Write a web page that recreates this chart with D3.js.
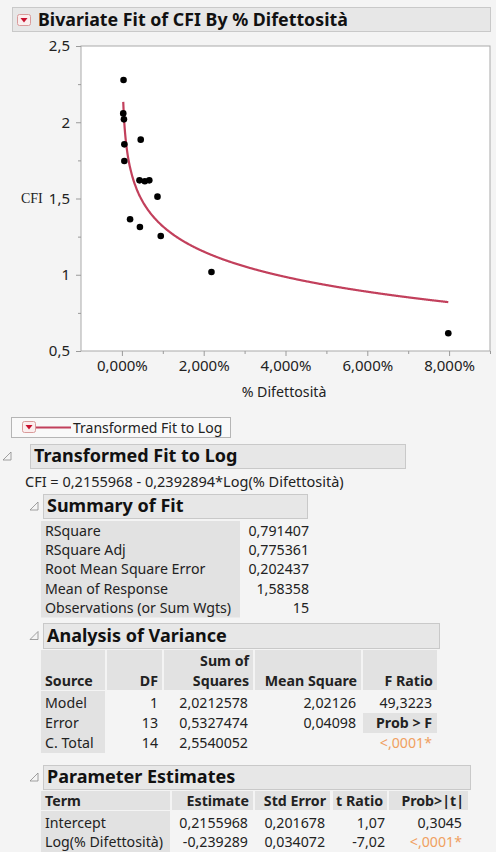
<!DOCTYPE html>
<html>
<head>
<meta charset="utf-8">
<script src="https://cdn.jsdelivr.net/npm/d3@7/dist/d3.min.js"></script>
<style>
  body { margin: 0; background: #f4f4f4; }
  svg { display: block; font-family: "Noto Sans", "Open Sans", sans-serif; }
</style>
</head>
<body>
<div id="chart"></div>
<script>
'use strict';

// scatter data: % Difettosità (as fraction) and CFI
var difettosita = [0.0004, 0.00033, 0.0005, 0.0006, 0.0006, 0.0046, 0.0043, 0.0056, 0.0067, 0.0087, 0.0020, 0.0044, 0.0095, 0.0219, 0.0798];
var cfi = [2.277, 2.058, 2.019, 1.855, 1.746, 1.886, 1.619, 1.613, 1.619, 1.512, 1.364, 1.313, 1.254, 1.018, 0.616];

// fitted model CFI = a + b*Log(x)
var fitIntercept = 0.2155968;
var fitSlope = -0.2392894;

var yTicks = [0.5, 1, 1.5, 2, 2.5];
var yMinorTicks = [0.75, 1.25, 1.75, 2.25];
var xTicks = [0, 0.02, 0.04, 0.06, 0.08];
var xMinorTicks = [0.01, 0.03, 0.05, 0.07, 0.09];

var titleText = 'Bivariate Fit of CFI By % Difettosità';
var fitName = 'Transformed Fit to Log';
var equationText = 'CFI = 0,2155968 - 0,2392894*Log(% Difettosità)';

var summaryLabels = ['RSquare', 'RSquare Adj', 'Root Mean Square Error', 'Mean of Response', 'Observations (or Sum Wgts)'];
var summaryValues = ['0,791407', '0,775361', '0,202437', '1,58358', '15'];

// header lines split on "\n"
var anovaCols = ['Source', 'DF', 'Sum of\nSquares', 'Mean Square', 'F Ratio'];
var anovaRows = [
  ['Model', '1', '2,0212578', '2,02126', '49,3223'],
  ['Error', '13', '0,5327474', '0,04098', 'Prob > F'],
  ['C. Total', '14', '2,5540052', '', '<,0001*']
];

var paramCols = ['Term', 'Estimate', 'Std Error', 't Ratio', 'Prob>|t|'];
var paramRows = [
  ['Intercept', '0,2155968', '0,201678', '1,07', '0,3045'],
  ['Log(% Difettosità)', '-0,239289', '0,034072', '-7,02', '<,0001*']
];

var it = d3.formatLocale({decimal: ',', thousands: '.', grouping: [3], currency: ['€', '']});

var width = 496;
var height = 852;
var headFill = '#e7e7e7';
var headStroke = '#c9c9c9';
var cellFill = '#e2e2e2';
var textCol = '#222';
var fitColour = '#c2405c';
var fs = 14.2;

var svg = d3.select('#chart').append('svg')
  .attr('width', width)
  .attr('height', height);

function redIcon(g, x, y) {
  g.append('rect').attr('x', x + 0.5).attr('y', y + 0.5).attr('width', 13).attr('height', 11)
    .attr('rx', 2).attr('fill', '#fbeeee').attr('stroke', '#d99a9a');
  g.append('path')
    .attr('d', 'M' + (x + 3.5) + ',' + (y + 4) + 'L' + (x + 10.5) + ',' + (y + 4) + 'L' + (x + 7) + ',' + (y + 8.5) + 'Z')
    .attr('fill', '#c8102e');
}

function outlineHeader(x, y, w, h, label, triX) {
  svg.append('path')
    .attr('d', 'M' + (triX + 8) + ',' + (y + h / 2 - 4) + 'L' + (triX + 8) + ',' + (y + h / 2 + 4) + 'L' + triX + ',' + (y + h / 2 + 4) + 'Z')
    .attr('fill', 'none').attr('stroke', '#8a8a8a').attr('stroke-width', 0.8);
  svg.append('rect').attr('x', x + 0.5).attr('y', y + 0.5).attr('width', w).attr('height', h)
    .attr('fill', headFill).attr('stroke', headStroke);
  svg.append('text').attr('x', x + 4).attr('y', y + h / 2).attr('dy', '0.36em')
    .attr('font-size', 18).attr('font-weight', 'bold').attr('fill', '#111')
    .text(label);
}

// ---- title bar ----
svg.append('rect').attr('x', 12.5).attr('y', 7.5).attr('width', 478).attr('height', 24)
  .attr('fill', headFill).attr('stroke', headStroke);
redIcon(svg, 17, 14);
svg.append('text').attr('x', 38).attr('y', 20).attr('dy', '0.36em')
  .attr('font-size', 17.8).attr('font-weight', 'bold').attr('fill', '#111')
  .text(titleText);

// ---- scatter plot ----
var x = d3.scaleLinear().domain([-0.01, 0.09]).range([81, 490]);
var y = d3.scaleLinear().domain([0.5, 2.5]).range([351, 46]);

svg.append('rect').attr('x', 81).attr('y', 46).attr('width', 409).attr('height', 305)
  .attr('fill', '#fff').attr('stroke', '#a9a9a9');

var yAxis = d3.axisLeft(y).tickValues(yTicks).tickSize(5).tickPadding(6)
  .tickFormat(function(d) { return it.format('~g')(d); });
var yMinor = d3.axisLeft(y).tickValues(yMinorTicks).tickSize(3).tickFormat('');
var xAxis = d3.axisBottom(x).tickValues(xTicks).tickSize(5).tickPadding(4)
  .tickFormat(function(d) { return it.format('.3%')(d); });
var xMinor = d3.axisBottom(x).tickValues(xMinorTicks).tickSize(3).tickFormat('');

function styleAxis(g) {
  g.select('.domain').remove();
  g.selectAll('line').attr('stroke', '#9a9a9a');
  g.selectAll('text').attr('font-size', 15).attr('fill', textCol)
    .attr('font-family', '"Noto Sans", sans-serif');
}

svg.append('g').attr('transform', 'translate(81,0)').call(yAxis).call(styleAxis);
svg.append('g').attr('transform', 'translate(81,0)').call(yMinor).call(styleAxis);
svg.append('g').attr('transform', 'translate(0,351)').call(xAxis).call(styleAxis);
svg.append('g').attr('transform', 'translate(0,351)').call(xMinor).call(styleAxis);

svg.append('text').attr('x', 21).attr('y', y(1.5)).attr('dy', '0.35em')
  .attr('font-size', 14).attr('fill', textCol).attr('font-family', '"Liberation Serif", serif')
  .text('CFI');
svg.append('text').attr('x', 284).attr('y', 392).attr('dy', '0.35em').attr('text-anchor', 'middle')
  .attr('font-size', fs).attr('fill', textCol)
  .text('% Difettosità');

// fitted curve over the observed range
var xMin = d3.min(difettosita);
var xMax = d3.max(difettosita);
var logScale = d3.scaleLog().domain([xMin, xMax]);
var curveX = logScale.ticks(400).filter(function(v) { return v >= xMin && v <= xMax; });
curveX.unshift(xMin);
curveX.push(xMax);
curveX.sort(d3.ascending);

var line = d3.line()
  .x(function(d) { return x(d); })
  .y(function(d) { return y(fitIntercept + fitSlope * Math.log(d)); })
  .curve(d3.curveMonotoneX);

svg.append('path').datum(curveX)
  .attr('d', line)
  .attr('fill', 'none')
  .attr('stroke', fitColour)
  .attr('stroke-width', 2.2);

svg.selectAll('.pt')
  .data(difettosita.map(function(d, i) { return {x: d, y: cfi[i]}; }))
  .enter().append('circle')
  .attr('class', 'pt')
  .attr('cx', function(d) { return x(d.x); })
  .attr('cy', function(d) { return y(d.y); })
  .attr('r', 3.3)
  .attr('fill', '#000');

// ---- legend box ----
svg.append('rect').attr('x', 11.5).attr('y', 417.5).attr('width', 219).attr('height', 20)
  .attr('fill', '#f9f9f9').attr('stroke', '#b5b5b5');
redIcon(svg, 22, 421);
svg.append('line').attr('x1', 36).attr('x2', 71).attr('y1', 427.5).attr('y2', 427.5)
  .attr('stroke', fitColour).attr('stroke-width', 2);
svg.append('text').attr('x', 73).attr('y', 428).attr('dy', '0.35em')
  .attr('font-size', 14).attr('fill', textCol).text(fitName);

// ---- Transformed Fit to Log ----
outlineHeader(30, 444, 375, 24, fitName, 3);
svg.append('text').attr('x', 25).attr('y', 482).attr('dy', '0.35em')
  .attr('font-size', 14.5).attr('fill', textCol).text(equationText);

// ---- Summary of Fit ----
outlineHeader(43, 494, 264, 24, 'Summary of Fit', 30);
var sumTop = 521;
var rowH = 19.3;
svg.append('rect').attr('x', 41).attr('y', sumTop).attr('width', 199).attr('height', rowH * summaryLabels.length)
  .attr('fill', cellFill);
summaryLabels.forEach(function(lab, i) {
  var cy = sumTop + rowH * (i + 0.5);
  svg.append('text').attr('x', 45).attr('y', cy).attr('dy', '0.35em')
    .attr('font-size', fs).attr('fill', textCol).text(lab);
  svg.append('text').attr('x', 309).attr('y', cy).attr('dy', '0.35em').attr('text-anchor', 'end')
    .attr('font-size', fs).attr('fill', textCol).text(summaryValues[i]);
});

// table helper: columns given as [left, right], first column is a label column
function drawTable(top, headH, cols, colBounds, rows, rowH, rowOffset, valueRight) {
  cols.forEach(function(c, j) {
    var b = colBounds[j];
    svg.append('rect').attr('x', b[0]).attr('y', top).attr('width', b[1] - b[0]).attr('height', headH)
      .attr('fill', cellFill);
    var parts = c.split('\n');
    parts.forEach(function(p, k) {
      svg.append('text')
        .attr('x', j === 0 ? b[0] + 4 : b[1] - 4)
        .attr('y', top + headH - 9 - (parts.length - 1 - k) * 20)
        .attr('dy', '0.35em')
        .attr('text-anchor', j === 0 ? 'start' : 'end')
        .attr('font-size', fs).attr('font-weight', 'bold').attr('fill', textCol)
        .text(p);
    });
  });
  var b0 = colBounds[0];
  svg.append('rect').attr('x', b0[0]).attr('y', top + headH + 1).attr('width', b0[1] - b0[0])
    .attr('height', rowH * rows.length + rowOffset).attr('fill', cellFill);
  rows.forEach(function(r, i) {
    var cy = top + headH + 1 + rowOffset + rowH * (i + 0.5);
    r.forEach(function(v, j) {
      if (!v) return;
      var b = colBounds[j];
      var isProb = v.indexOf('Prob') === 0;
      if (isProb) {
        svg.append('rect')
          .attr('x', b[0]).attr('y', cy - rowH / 2).attr('width', b[1] - b[0]).attr('height', rowH)
          .attr('fill', cellFill);
      }
      var t = svg.append('text')
        .attr('y', cy).attr('dy', '0.35em').attr('font-size', fs).attr('fill', textCol).text(v);
      if (j === 0) {
        t.attr('x', b[0] + 4);
      } else {
        t.attr('x', valueRight[j]).attr('text-anchor', 'end');
      }
      if (isProb) t.attr('font-weight', 'bold');
      if (v.indexOf('<') === 0) t.attr('fill', '#f0a060');
    });
  });
}

// ---- Analysis of Variance ----
outlineHeader(43, 623, 396, 25, 'Analysis of Variance', 30);
drawTable(650, 40, anovaCols,
  [[41, 105], [107, 162], [164, 253], [255, 361], [363, 437]],
  anovaRows, 20, 2, [0, 158, 248, 356, 432]);

// ---- Parameter Estimates ----
outlineHeader(43, 765, 427, 24, 'Parameter Estimates', 30);
drawTable(791, 19, paramCols,
  [[41, 170], [172, 253], [255, 330], [333, 387], [389, 468]],
  paramRows, 19.5, 2, [0, 248, 325, 385, 462]);
</script>
</body>
</html>
